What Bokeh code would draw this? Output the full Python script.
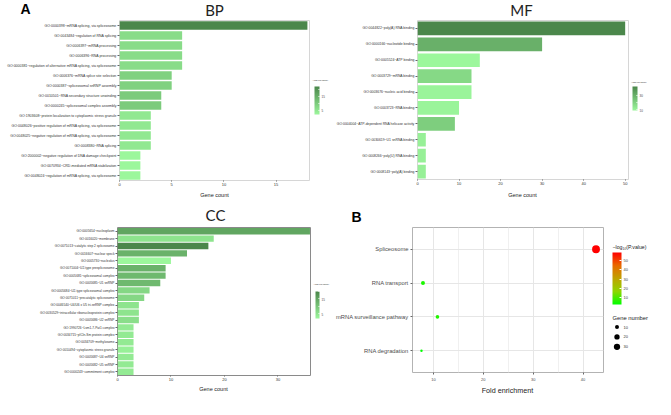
import numpy as np
from bokeh.plotting import figure
from bokeh.layouts import row, column
from bokeh.models import (ColumnDataSource, LinearColorMapper, ColorBar, FactorRange,
                          Range1d, FixedTicker)
from bokeh.core.properties import value
from bokeh.embed import file_html
from bokeh.resources import INLINE

# ---------------- data ----------------
bp_terms = [
    "GO:0000398~mRNA splicing, via spliceosome",
    "GO:0043484~regulation of RNA splicing",
    "GO:0006397~mRNA processing",
    "GO:0006396~RNA processing",
    "GO:0000381~regulation of alternative mRNA splicing, via spliceosome",
    "GO:0006376~mRNA splice site selection",
    "GO:0000387~spliceosomal snRNP assembly",
    "GO:0010501~RNA secondary structure unwinding",
    "GO:0000245~spliceosomal complex assembly",
    "GO:1903608~protein localization to cytoplasmic stress granule",
    "GO:0048026~positive regulation of mRNA splicing, via spliceosome",
    "GO:0048025~negative regulation of mRNA splicing, via spliceosome",
    "GO:0008380~RNA splicing",
    "GO:2000002~negative regulation of DNA damage checkpoint",
    "GO:0070934~CRD-mediated mRNA stabilization",
    "GO:0048024~regulation of mRNA splicing, via spliceosome",
]
bp_counts = [18, 6, 6, 6, 6, 5, 5, 4, 4, 3, 3, 3, 3, 2, 2, 2]
bp_logp = [22, 7, 7, 7, 7, 9, 9, 10, 10, 5, 5, 5, 5, 2.3, 2.3, 2.3]
bp_ticks = [0, 5, 10, 15]
bp_cb_ticks = [5, 10, 15, 20]

mf_terms = [
    "GO:0044822~poly(A) RNA binding",
    "GO:0000166~nucleotide binding",
    "GO:0005524~ATP binding",
    "GO:0003729~mRNA binding",
    "GO:0003676~nucleic acid binding",
    "GO:0003723~RNA binding",
    "GO:0004004~ATP-dependent RNA helicase activity",
    "GO:0030619~U1 snRNA binding",
    "GO:0008266~poly(U) RNA binding",
    "GO:0008143~poly(A) binding",
]
mf_counts = [50, 30, 15, 13, 13, 10, 9, 2, 2, 2]
mf_logp = [42, 30, 9, 18, 10, 10, 21, 11, 11, 11]
mf_ticks = [0, 10, 20, 30, 40, 50]
mf_cb_ticks = [10, 20, 30]

cc_terms = [
    "GO:0005654~nucleoplasm",
    "GO:0016020~membrane",
    "GO:0071013~catalytic step 2 spliceosome",
    "GO:0016607~nuclear speck",
    "GO:0005730~nucleolus",
    "GO:0071004~U2-type prespliceosome",
    "GO:0005681~spliceosomal complex",
    "GO:0005685~U1 snRNP",
    "GO:0005684~U2-type spliceosomal complex",
    "GO:0071011~precatalytic spliceosome",
    "GO:0046540~U4/U6 x U5 tri-snRNP complex",
    "GO:0030529~intracellular ribonucleoprotein complex",
    "GO:0005686~U2 snRNP",
    "GO:1990726~Lsm1-7-Pat1 complex",
    "GO:0034715~pICln-Sm protein complex",
    "GO:0034709~methylosome",
    "GO:0010494~cytoplasmic stress granule",
    "GO:0005687~U4 snRNP",
    "GO:0005682~U5 snRNP",
    "GO:0000243~commitment complex",
]
cc_counts = [36, 18, 17, 13, 10, 9, 9, 8, 6, 5, 4, 4, 4, 3, 3, 3, 3, 3, 3, 3]
cc_logp = [15, 5, 20, 13, 1.9, 13, 12, 12, 7, 7, 5, 5, 6, 4, 4, 4, 3, 4, 4, 4]
cc_ticks = [0, 10, 20, 30]
cc_cb_ticks = [5, 10, 15, 20]

kegg_terms = ["Spliceosome", "RNA transport", "mRNA surveillance pathway", "RNA degradation"]
kegg_fold = [42.6, 7.9, 10.8, 7.6]
kegg_logp = [58.7, 5.5, 6.0, 2.7]
kegg_genes = [52, 10, 8, 3]
kegg_ticks = [10, 20, 30, 40]
kegg_minor = [15, 25, 35]
kegg_cb_ticks = [10, 20, 30, 40, 50]
size_breaks = [10, 20, 30]

# ---------------- styling helpers ----------------
FONT = "Liberation Sans"
TFONT = "Lato"
CB_TITLE = "\u2212log\u2081\u2080(P.value)"
CB_SHIFT = 8  # colour-bar box sits this much above its nominal bottom


def lerp_palette(stops, n=256):
    cols = np.array([[int(h[i:i + 2], 16) for i in (1, 3, 5)] for h in stops], float)
    pos = np.linspace(0, 1, len(stops))
    out = []
    for tt in np.linspace(0, 1, n):
        rgb = [int(round(np.interp(tt, pos, cols[:, k]))) for k in range(3)]
        out.append("#%02x%02x%02x" % tuple(rgb))
    return out


GREENS = lerp_palette(["#9cf79c", "#4b874b"])
REDGREEN = lerp_palette(["#00ff00", "#8fd600", "#bfa300", "#e86a00", "#ff0000"])


def size_px(n):
    # point diameter scale for "Gene number"
    return 1.545 * np.power(np.asarray(n, float), 0.413)


def blank_fig(W, H):
    p = figure(width=W, height=H, x_range=Range1d(0, W), y_range=Range1d(H, 0),
               min_border=0, x_axis_location=None, y_axis_location=None,
               output_backend="svg", toolbar_location=None)
    p.outline_line_color = None
    p.grid.visible = False
    return p


def put_text(p, X, Y, text, size, font=FONT, style="normal", align="left",
             color="#222222"):
    p.text(x=[X], y=[Y], text=[text], text_font=value(font), text_font_size=value(size),
           text_font_style=style, text_align=align, text_baseline="middle",
           text_color=color)


def style_axis(ax, fs_major, color="#333333", tick_out=1):
    ax.major_label_text_font = FONT
    ax.major_label_text_font_size = fs_major
    ax.major_label_text_color = color
    ax.major_label_standoff = 1
    ax.major_tick_out = tick_out
    ax.major_tick_in = 0
    ax.minor_tick_line_color = None
    ax.axis_line_color = None
    ax.major_tick_line_color = "#666666"


def bar_main(terms, counts, logp, mapper, W, H, L, R, B, xmax, xticks, lab_fs, outline):
    src = ColumnDataSource(dict(term=terms, count=counts, logp=logp))
    p = figure(width=W, height=H, y_range=FactorRange(factors=terms[::-1]),
               x_range=Range1d(0, xmax), output_backend="svg", toolbar_location=None,
               min_border_left=L, min_border_right=W - R, min_border_top=1,
               min_border_bottom=H - B)
    p.hbar(y="term", left=0, right="count", height=0.86, source=src,
           fill_color={"field": "logp", "transform": mapper}, line_color=None)
    p.outline_line_color = outline
    p.grid.visible = False
    p.xaxis[0].ticker = FixedTicker(ticks=xticks)
    style_axis(p.xaxis[0], "4px")
    style_axis(p.yaxis[0], lab_fs, tick_out=2)
    return p


def cbar_fig(mapper, ticks, W, H, bx, by_bottom, bw, bh, fs, title_xy, title_fs):
    p = blank_fig(W, H)
    cb = ColorBar(color_mapper=mapper, width=bw, height=bh,
                  location=(bx, by_bottom - CB_SHIFT),
                  major_label_text_font=FONT, major_label_text_font_size=fs,
                  label_standoff=2, ticker=FixedTicker(ticks=ticks),
                  major_tick_line_color="white", major_tick_in=max(1, bw // 4),
                  major_tick_out=0, bar_line_color=None, border_line_color=None,
                  background_fill_alpha=0, padding=0, margin=0)
    p.add_layout(cb, "center")
    put_text(p, title_xy[0], title_xy[1], CB_TITLE, title_fs)
    return p


# ================= BP (top-left block 333 x 200) =================
bp_map = LinearColorMapper(palette=GREENS, low=2.3, high=22)
bp_head = blank_fig(333, 19)
put_text(bp_head, 20, 8.5, "A", "14px", style="bold", color="black")
put_text(bp_head, 214, 9, "BP", "15px", font=TFONT, align="center")
bp = bar_main(bp_terms, bp_counts, bp_logp, bp_map, 311, 170, 119, 309, 161, 18.2,
              bp_ticks, "3.5px", "#d6d6d6")
bp_leg = cbar_fig(bp_map, bp_cb_ticks, 22, 170, 3, 74, 5, 28, "3px", (1, 64), "2.4px")
bp_foot = blank_fig(333, 11)
put_text(bp_foot, 214, 4, "Gene count", "5.5px", align="center")
top_left = column(bp_head, row(bp, bp_leg), bp_foot)

# ================= MF (top-right block 322 x 200) =================
mf_map = LinearColorMapper(palette=GREENS, low=9, high=42)
mf_head = blank_fig(322, 19)
put_text(mf_head, 188, 9, "MF", "15px", font=TFONT, align="center")
mf = bar_main(mf_terms, mf_counts, mf_logp, mf_map, 297, 170, 84, 295, 160, 50.8,
              mf_ticks, "3.4px", "#d6d6d6")
mf_leg = cbar_fig(mf_map, mf_cb_ticks, 25, 170, 2, 77, 5, 24, "3px", (0.5, 66), "2.4px")
mf_foot = blank_fig(322, 11)
put_text(mf_foot, 189, 4, "Gene count", "5.5px", align="center")
top_right = column(mf_head, row(mf, mf_leg), mf_foot)

# ================= CC (bottom-left block 333 x 194) =================
cc_map = LinearColorMapper(palette=GREENS, low=1.9, high=20)
cc_head = blank_fig(333, 26)
put_text(cc_head, 215, 14.5, "CC", "15px", font=TFONT, align="center")
cc = bar_main(cc_terms, cc_counts, cc_logp, cc_map, 312, 157, 117, 310, 149, 36.1,
              cc_ticks, "3.2px", "#8a8a8a")
cc_leg = cbar_fig(cc_map, cc_cb_ticks, 21, 157, 3, 65, 4, 27, "3px", (1, 60.5), "2.4px")
cc_foot = blank_fig(333, 11)
put_text(cc_foot, 213, 4, "Gene count", "5.5px", align="center")
bottom_left = column(cc_head, row(cc, cc_leg), cc_foot)

# ================= B: KEGG dot plot (bottom-right block 322 x 194) =================
kmapper = LinearColorMapper(palette=REDGREEN, low=min(kegg_logp), high=max(kegg_logp))
ksrc = ColumnDataSource(dict(term=kegg_terms, fold=kegg_fold, logp=kegg_logp,
                             sz=size_px(kegg_genes)))
b_head = blank_fig(322, 26)
put_text(b_head, 18, 16.8, "B", "14px", style="bold", color="black")
b = figure(width=272, height=157,
           y_range=FactorRange(factors=kegg_terms[::-1], range_padding=0.07),
           x_range=Range1d(5.8, 44.1), output_backend="svg", toolbar_location=None,
           min_border_left=77, min_border_right=2, min_border_top=1, min_border_bottom=8)
b.scatter(x="fold", y="term", size="sz", source=ksrc,
          fill_color={"field": "logp", "transform": kmapper}, line_color=None)
b.outline_line_color = "#b3b3b3"
b.xaxis.ticker = FixedTicker(ticks=kegg_ticks, minor_ticks=kegg_minor)
b.xgrid.grid_line_color = "#e6e6e6"
b.xgrid.minor_grid_line_color = "#f0f0f0"
b.ygrid.grid_line_color = "#e6e6e6"
style_axis(b.xaxis[0], "4px", "#4d4d4d", tick_out=2)
style_axis(b.yaxis[0], "5.8px", "#4d4d4d", tick_out=2)
b.yaxis[0].major_label_standoff = 2

b_leg = cbar_fig(kmapper, kegg_cb_ticks, 50, 157, 7, 76, 9, 52, "4px", (7, 21), "5.2px")
put_text(b_leg, 7, 98, "Gene number", "5.8px")
lsrc = ColumnDataSource(dict(
    x=[11.5] * len(size_breaks),
    y=[107.8 + 10.7 * i for i in range(len(size_breaks))],
    sz=size_px(size_breaks),
    lx=[18] * len(size_breaks),
    lab=[str(v) for v in size_breaks]))
b_leg.scatter(x="x", y="y", size="sz", source=lsrc, fill_color="black", line_color=None)
b_leg.text(x="lx", y="y", text="lab", source=lsrc, text_font=value(FONT),
           text_font_size=value("4px"), text_baseline="middle", text_color="#333333")
b_foot = blank_fig(322, 11)
put_text(b_foot, 174, 5.5, "Fold enrichment", "7.2px", align="center")
bottom_right = column(b_head, row(b, b_leg), b_foot)

layout = column(row(top_left, top_right), row(bottom_left, bottom_right))

with open("out.html", "w") as f:
    f.write(file_html(layout, INLINE))
